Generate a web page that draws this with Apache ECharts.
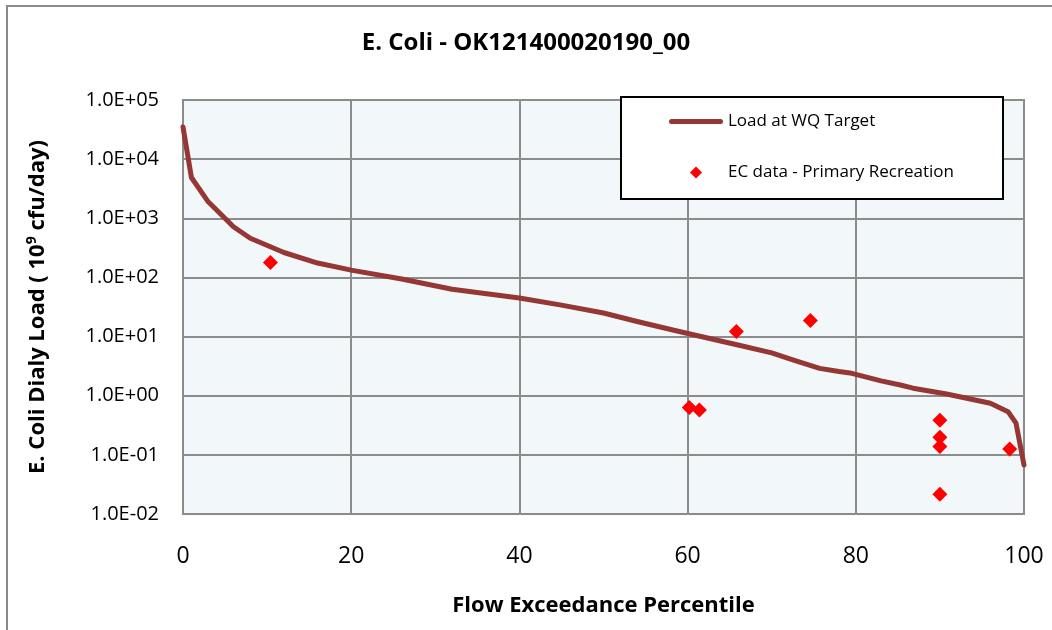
<!DOCTYPE html>
<html>
<head>
<meta charset="utf-8">
<style>
  html, body { margin: 0; padding: 0; background: #ffffff; }
  #chart { width: 1052px; height: 630px; }
</style>
<script src="https://cdn.jsdelivr.net/npm/echarts@6/dist/echarts.min.js"></script>
</head>
<body>
<div id="chart"></div>
<script>
// Load duration curve: flow exceedance percentile vs. allowable load (10^9 cfu/day)
const curvePercentile = [0, 1, 3, 6, 8, 12, 16, 20, 26, 32, 40, 45, 50, 54, 59, 66, 70, 72.6, 75.7, 78, 79.3, 83, 85.3, 86.8, 90.8, 96, 98.1, 99.05, 100];
const curveLoad       = [35000, 4900, 1900, 720, 460, 264, 175, 133, 94, 63, 45, 34, 25, 18, 12.2, 7.2, 5.3, 4.0, 2.9, 2.56, 2.43, 1.78, 1.52, 1.34, 1.07, 0.746, 0.538, 0.343, 0.0675];

// Observed E. coli loads (primary recreation season)
const samplePercentile = [10.4, 60.2, 61.4, 65.8, 74.6, 90, 90, 90, 90, 98.3];
const sampleLoad       = [179, 0.63, 0.575, 12.2, 18.7, 0.384, 0.199, 0.138, 0.0216, 0.126];

const xTicks = { min: 0, max: 100, interval: 20 };
const yRange = { min: 0.01, max: 100000 };

const titleText = 'E. Coli - OK121400020190_00';
const xAxisTitle = 'Flow Exceedance Percentile';
const lineName = 'Load at WQ Target';
const scatterName = 'EC data - Primary Recreation';

const FONT = '"Open Sans", "Noto Sans", sans-serif';
const LINE_COLOR = '#953735';
const POINT_COLOR = '#FF0000';

// "1.0E+05" style tick text with a two-digit exponent
function sciLabel(v) {
  const e = Math.round(Math.log10(v));
  const sign = e < 0 ? '-' : '+';
  const abs = Math.abs(e);
  return '1.0E' + sign + (abs < 10 ? '0' + abs : String(abs));
}

const chart = echarts.init(document.getElementById('chart'), null, { renderer: 'canvas' });

chart.setOption({
  animation: false,
  backgroundColor: '#ffffff',
  textStyle: { fontFamily: FONT },
  title: {
    text: titleText,
    left: 'center',
    top: 31,
    padding: [0, 0, 0, 26],
    textStyle: { fontFamily: FONT, fontSize: 24, fontWeight: 'bold', color: '#000000' }
  },
  graphic: [
    {
      // chart-area frame
      type: 'polyline',
      z: 1,
      shape: { points: [[7, 640], [7, 6], [1060, 6]] },
      style: { stroke: '#8a8a8a', lineWidth: 2, fill: null }
    },
    {
      // legend frame
      type: 'rect',
      z: 10,
      shape: { x: 621, y: 97, width: 382, height: 102 },
      style: { fill: '#ffffff', stroke: '#000000', lineWidth: 2 }
    }
  ],
  legend: {
    orient: 'vertical',
    left: 669,
    top: 113,
    padding: 0,
    itemWidth: 54,
    itemHeight: 12,
    itemGap: 34,
    symbolKeepAspect: true,
    z: 20,
    textStyle: { fontFamily: FONT, fontSize: 17, lineHeight: 17, color: '#000000' },
    data: [
      {
        name: lineName,
        icon: 'path://M2.5,0 H51.5 A2.5,2.5 0 0 1 51.5,5 H2.5 A2.5,2.5 0 0 1 2.5,0 Z',
        itemStyle: { color: LINE_COLOR }
      },
      {
        name: scatterName,
        icon: 'path://M6,0 L12,6 L6,12 L0,6 Z',
        itemStyle: { color: POINT_COLOR }
      }
    ]
  },
  grid: {
    left: 183,
    right: 28,
    top: 100,
    bottom: 116,
    show: true,
    backgroundColor: '#F2F7FA',
    borderColor: '#8c8c8c',
    borderWidth: 2
  },
  xAxis: {
    type: 'value',
    min: xTicks.min,
    max: xTicks.max,
    interval: xTicks.interval,
    name: xAxisTitle,
    nameLocation: 'middle',
    nameGap: 81,
    nameTextStyle: { fontFamily: FONT, fontSize: 22, fontWeight: 'bold', color: '#000000' },
    axisLine: { show: false },
    axisTick: { show: false },
    axisLabel: { margin: 31, fontFamily: FONT, fontSize: 23, color: '#000000' },
    splitLine: { show: true, lineStyle: { color: '#8c8c8c', width: 2 } }
  },
  yAxis: {
    type: 'log',
    logBase: 10,
    min: yRange.min,
    max: yRange.max,
    name: '{b|E. Coli Dialy Load ( 10}{s|9}{b| cfu/day)}',
    nameLocation: 'middle',
    nameGap: 132,
    nameTextStyle: {
      rich: {
        b: { fontFamily: FONT, fontSize: 22, fontWeight: 'bold', color: '#000000', lineHeight: 26 },
        s: { fontFamily: FONT, fontSize: 14, fontWeight: 'bold', color: '#000000', lineHeight: 14, verticalAlign: 'top' }
      }
    },
    axisLine: { show: false },
    axisTick: { show: false },
    axisLabel: { margin: 24, fontFamily: FONT, fontSize: 20, color: '#000000', formatter: sciLabel },
    splitLine: { show: true, lineStyle: { color: '#8c8c8c', width: 2 } }
  },
  series: [
    {
      name: lineName,
      type: 'line',
      symbol: 'none',
      showSymbol: false,
      z: 3,
      lineStyle: { color: LINE_COLOR, width: 5, cap: 'round', join: 'round' },
      itemStyle: { color: LINE_COLOR },
      data: curvePercentile.map((p, i) => [p, curveLoad[i]])
    },
    {
      name: scatterName,
      type: 'scatter',
      symbol: 'diamond',
      symbolSize: 15,
      z: 4,
      itemStyle: { color: POINT_COLOR, opacity: 1 },
      data: samplePercentile.map((p, i) => [p, sampleLoad[i]])
    }
  ]
});
</script>
</body>
</html>
